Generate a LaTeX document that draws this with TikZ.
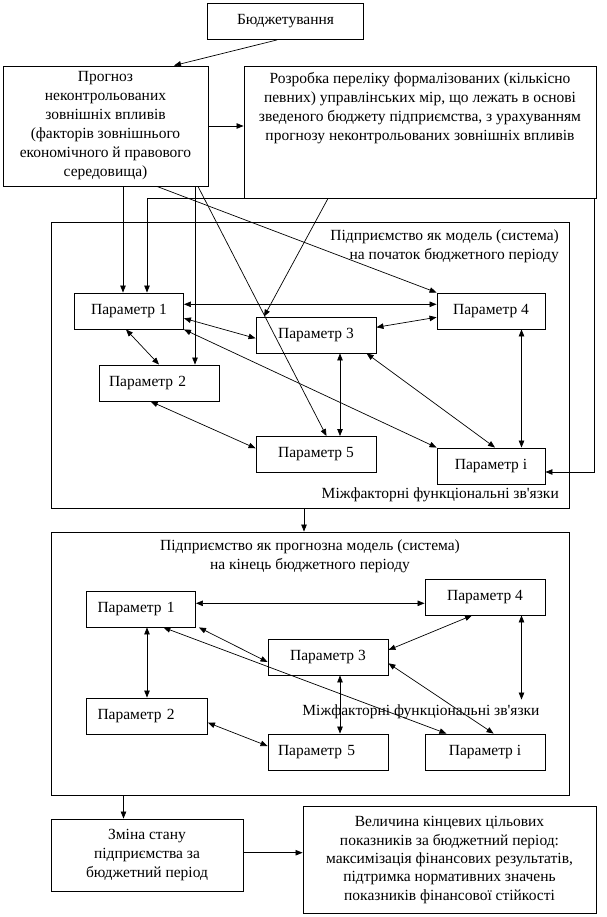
\documentclass[tikz,border=0pt]{standalone}
\usepackage{fontspec}
\setmainfont{Liberation Serif}
\usetikzlibrary{arrows.meta}
\begin{document}
\begin{tikzpicture}[
	x=1pt,y=-1pt,
	txt/.style={inner sep=0pt, align=center, font=\fontsize{15.5}{19}\selectfont},
	box/.style={txt, draw, line width=0.9pt},
	param/.style={box, minimum width=#1, minimum height=36},
	ptext/.style={text width=#1, align=left},
	frame/.style={draw, line width=0.9pt, inner sep=0pt},
	arr/.style={line width=0.7pt, -{Triangle[length=7pt,width=5.5pt]}},
	darr/.style={line width=0.7pt, {Triangle[length=7pt,width=5.5pt]}-{Triangle[length=7pt,width=5.5pt]}}
]
	\useasboundingbox (0,0) rectangle (606,917);
	\node[box, minimum width=156, minimum height=36] (budget) at (285.5,21.5) {Бюджетування};
	\node[box, minimum width=205, minimum height=120] (prognoz) at (105.5,126) {Прогноз\\неконтрольованих\\зовнішніх впливів\\(факторів зовнішнього\\економічного й правового\\середовища)};
	\node[box, minimum width=352, minimum height=132] (rozr) at (420,132) {};
	\node[txt] (rozrtext) at (420,108.5) {Розробка переліку формалізованих (кількісно\\певних) управлінських мір, що лежать в основі\\зведеного бюджету підприємства, з урахуванням\\прогнозу неконтрольованих зовнішніх впливів};

	\node[frame, minimum width=518, minimum height=286] (frame1) at (310,365) {};
	\node[txt, align=right, anchor=east] (title1) at (559,246) {Підприємство як модель (система)\\на початок бюджетного періоду};
	\node[param=109] (p1) at (129,311) {Параметр 1};
	\node[param=108] (p4) at (491,311) {Параметр 4};
	\node[param=120] (p3) at (316,335) {Параметр 3};
	\node[param=120, ptext=100pt] (p2) at (159,383) {Параметр 2};
	\node[param=120] (p5) at (316,454.5) {Параметр 5};
	\node[param=108] (pi) at (491,466) {Параметр і};
	\node[txt, anchor=east] (links1) at (559,495) {Міжфакторні функціональні зв\textquotesingle язки};

	\node[frame, minimum width=518, minimum height=263] (frame2) at (310,663.5) {};
	\node[txt] (title2) at (310,556) {Підприємство як прогнозна модель (система)\\на кінець бюджетного періоду};
	\node[param=109, ptext=87pt] (q1) at (141,609) {Параметр 1};
	\node[param=120] (q4) at (485,597) {Параметр 4};
	\node[param=120] (q3) at (328,657) {Параметр 3};
	\node[param=121, ptext=99pt] (q2) at (147,716) {Параметр 2};
	\node[param=120, ptext=100pt] (q5) at (328,752) {Параметр 5};
	\node[param=120] (qi) at (485,752) {Параметр і};
	\node[txt] (links2) at (421,712) {Міжфакторні функціональні зв\textquotesingle язки};

	\node[box, minimum width=192, minimum height=72] (zmina) at (147,855) {Зміна стану\\підприємства за\\бюджетний період};
	\node[box, minimum width=293, minimum height=107, font=\fontsize{15.5}{18.3}\selectfont] (velych) at (449.5,860) {Величина кінцевих цільових\\показників за бюджетний період:\\максимізація фінансових результатів,\\підтримка нормативних значень\\показників фінансової стійкості};

	\draw[arr] ([xshift=-8.5]budget.south) -- ([xshift=68.5]prognoz.north);
	\draw[arr] (prognoz.east) -- ([yshift=6]rozr.west);
	\draw[arr] ([xshift=17.5]prognoz.south) -- ([xshift=-6]p1.north);
	\draw[arr] ([xshift=89.5]prognoz.south) -- ([xshift=36]p2.north);
	\draw[arr] ([xshift=51.5]prognoz.south) -- (p4.north west);
	\draw[arr] ([xshift=92.5]prognoz.south) -- ([xshift=10.5]p5.north);
	\draw[arr] ([xshift=-92]rozr.south) -- ([xshift=-52]p3.north);
	\draw[arr] (rozr.south west) -| ([xshift=18]p1.north);
	\draw[arr] ([xshift=174]rozr.south) |- ([yshift=-6]pi.east);

	\draw[darr] ([yshift=6.7]p1.east) -- ([yshift=6.7]p4.west);
	\draw[darr] ([yshift=-7.3]p1.east) -- ([yshift=-3.3]p3.west);
	\draw[darr] ([yshift=-6.3]p4.west) -- ([yshift=7.7]p3.east);
	\draw[darr] ([xshift=-3]p1.south) -- (p2.north);
	\draw[darr] (p1.south east) -- (pi.north west);
	\draw[darr] ([xshift=24]p3.south) -- ([xshift=24]p5.north);
	\draw[darr] ([xshift=50.6]p3.south) -- ([xshift=4]pi.north);
	\draw[darr] ([xshift=30.5]p4.south) -- ([xshift=30.5]pi.north);
	\draw[darr] ([xshift=-8.3]p2.south) -- ([yshift=6.2]p5.west);

	\draw[arr] ([xshift=-6]frame1.south) -- ([xshift=-6]frame2.north);

	\draw[darr] ([yshift=5.7]q1.east) -- ([yshift=-6.3]q4.west);
	\draw[darr] ([xshift=6]q1.south) -- (q2.north);
	\draw[darr] ([xshift=3]q1.south east) -- ([yshift=-5]q3.west);
	\draw[darr] ([xshift=22.4]q1.south) -- ([xshift=-38.6]qi.north);
	\draw[darr] ([xshift=-13]q4.south) -- ([yshift=7]q3.east);
	\draw[darr, shorten >=34pt] ([xshift=36.5]q4.south) -- ([xshift=36.5]qi.north);
	\draw[darr] ([xshift=12]q3.south) -- ([xshift=12]q5.north);
	\draw[darr] ([yshift=-6.3]q3.east) -- ([xshift=8.6]qi.north);
	\draw[darr] ([yshift=-6.7]q2.east) -- ([yshift=6]q5.west);

	\draw[arr] ([xshift=-186.5]frame2.south) -- ([xshift=-23.5]zmina.north);
	\draw[arr] ([yshift=2.3]zmina.east) -- ([yshift=7.3]velych.west);
\end{tikzpicture}
\end{document}
